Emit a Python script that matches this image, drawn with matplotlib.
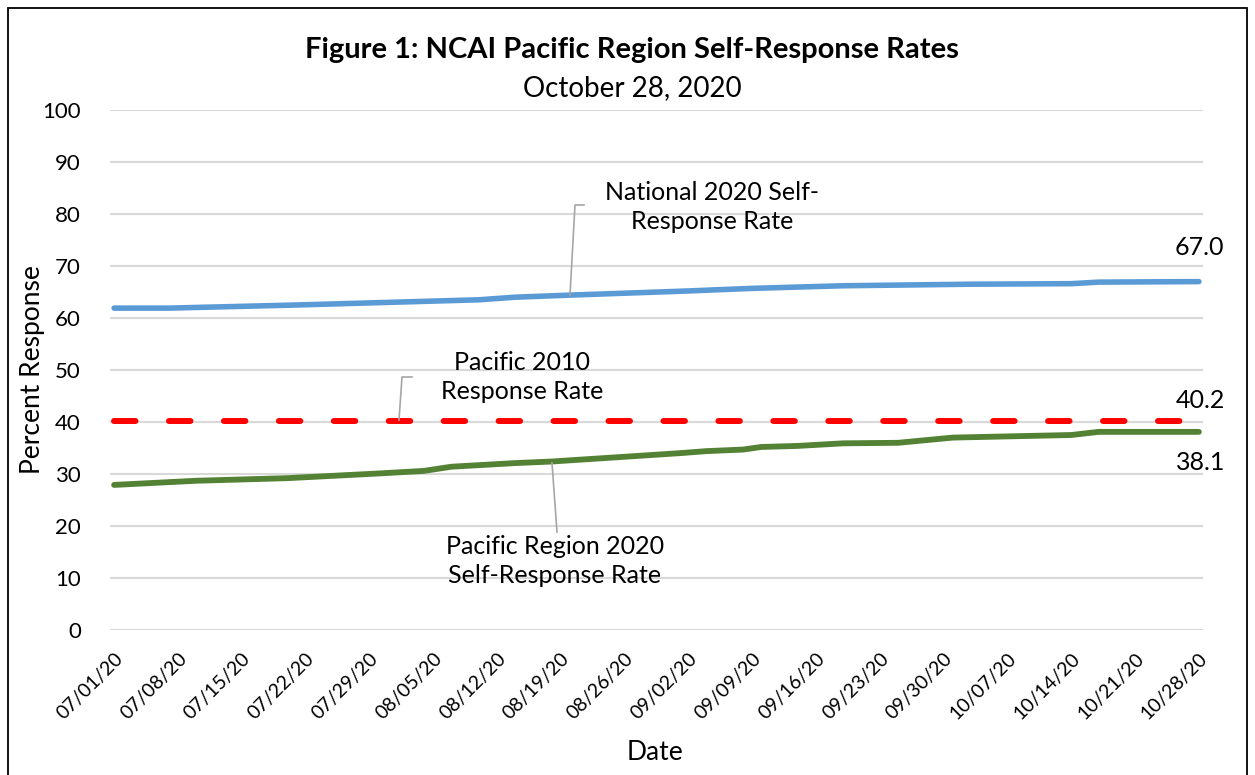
import matplotlib
matplotlib.use("Agg")
import matplotlib.pyplot as plt
import matplotlib.dates as mdates
from matplotlib.patches import Rectangle
import pandas as pd

plt.rcParams['font.family'] = ['Lato', 'DejaVu Sans']

# ---- data ----
tick_dates = ["2020-07-01", "2020-07-08", "2020-07-15", "2020-07-22", "2020-07-29",
              "2020-08-05", "2020-08-12", "2020-08-19", "2020-08-26", "2020-09-02",
              "2020-09-09", "2020-09-16", "2020-09-23", "2020-09-30", "2020-10-07",
              "2020-10-14", "2020-10-21", "2020-10-28"]
tick_labels = ["07/01/20", "07/08/20", "07/15/20", "07/22/20", "07/29/20", "08/05/20",
               "08/12/20", "08/19/20", "08/26/20", "09/02/20", "09/09/20", "09/16/20",
               "09/23/20", "09/30/20", "10/07/20", "10/14/20", "10/21/20", "10/28/20"]

national_dates = ["2020-07-01", "2020-07-07", "2020-07-21", "2020-07-29", "2020-08-04",
                  "2020-08-10", "2020-08-14", "2020-08-20", "2020-09-02", "2020-09-09",
                  "2020-09-19", "2020-10-03", "2020-10-14", "2020-10-17", "2020-10-28"]
national_vals = [61.9, 61.9, 62.5, 62.9, 63.2, 63.5, 64.0, 64.4, 65.2, 65.7,
                 66.2, 66.5, 66.6, 66.9, 67.0]

pacific_dates = ["2020-07-01", "2020-07-10", "2020-07-20", "2020-07-30", "2020-08-04",
                 "2020-08-07", "2020-08-14", "2020-08-18", "2020-08-25", "2020-09-01",
                 "2020-09-04", "2020-09-08", "2020-09-10", "2020-09-14", "2020-09-19",
                 "2020-09-25", "2020-10-01", "2020-10-14", "2020-10-17", "2020-10-28"]
pacific_vals = [27.9, 28.7, 29.2, 30.1, 30.6, 31.4, 32.1, 32.4, 33.2, 34.0,
                34.4, 34.7, 35.2, 35.4, 35.9, 36.0, 37.0, 37.5, 38.1, 38.1]

pacific_2010 = 40.2

# ---- figure ----
W, H = 1255, 775
fig = plt.figure(figsize=(W / 100, H / 100), dpi=100)
ax = fig.add_axes([110 / W, 1 - 630 / H, (1203 - 110) / W, (630 - 110) / H])

nd = pd.to_datetime(national_dates)
pd_ = pd.to_datetime(pacific_dates)
td = pd.to_datetime(tick_dates)

ax.plot(nd, national_vals, color="#5B9BD5", lw=4.0, solid_capstyle="round",
        solid_joinstyle="round", zorder=3)
ax.plot(pd_, pacific_vals, color="#548235", lw=4.2, solid_capstyle="round",
        solid_joinstyle="round", zorder=3)
ax.plot([td[0], td[-1]], [pacific_2010, pacific_2010], color="#FF0000", lw=4.3,
        dashes=(3.6, 5.6), dash_capstyle="round", zorder=3)

x0 = mdates.date2num(td[0])
x1 = mdates.date2num(td[-1])
ax.set_xlim(x0 - 0.45, x1 + 0.45)
ax.set_ylim(0, 100)
ax.set_yticks(range(0, 101, 10))
ax.set_xticks(td)
ax.set_xticklabels(tick_labels, rotation=45, ha="right", va="top",
                   rotation_mode="anchor", fontsize=14)
ax.tick_params(axis="x", length=0, pad=14)
ax.tick_params(axis="y", length=0, pad=21, labelsize=16)
ax.grid(axis="y", color="#D9D9D9", lw=1.5, zorder=0)
ax.set_axisbelow(True)
for s in ax.spines.values():
    s.set_visible(False)

# labels
fig.text(33 / W, 1 - 370 / H, "Percent Response", rotation=90, ha="center",
         va="center", fontsize=19)
fig.text(655 / W, 1 - 752 / H, "Date", ha="center", va="center", fontsize=19)
fig.text(632 / W, 1 - 50 / H, "Figure 1: NCAI Pacific Region Self-Response Rates",
         ha="center", va="center", fontsize=21, fontweight="bold")
fig.text(632 / W, 1 - 88 / H, "October 28, 2020", ha="center", va="center",
         fontsize=20)

# end value labels
ax.annotate(f"{national_vals[-1]:.1f}", (x1, national_vals[-1]), xytext=(0, 34),
            textcoords="offset pixels", ha="center", va="center", fontsize=18)
ax.annotate(f"{pacific_2010:.1f}", (x1, pacific_2010), xytext=(2, 20),
            textcoords="offset pixels", ha="center", va="center", fontsize=18)
ax.annotate(f"{pacific_vals[-1]:.1f}", (x1, pacific_vals[-1]), xytext=(2, -31),
            textcoords="offset pixels", ha="center", va="center", fontsize=18)

# callouts (figure pixel coords)
grey = "#A6A6A6"
fig.lines.append(plt.Line2D([584 / W, 575 / W, 570 / W],
                            [1 - 205 / H, 1 - 205 / H, 1 - 295 / H],
                            color=grey, lw=1.2, transform=fig.transFigure))
fig.text(712 / W, 1 - 207 / H, "National 2020 Self-\nResponse Rate", ha="center",
         va="center", fontsize=18, linespacing=1.3)

fig.lines.append(plt.Line2D([412 / W, 402 / W, 399 / W],
                            [1 - 377 / H, 1 - 377 / H, 1 - 420 / H],
                            color=grey, lw=1.2, transform=fig.transFigure))
fig.text(522 / W, 1 - 377 / H, "Pacific 2010\nResponse Rate", ha="center",
         va="center", fontsize=18, linespacing=1.3)

fig.lines.append(plt.Line2D([552 / W, 557 / W], [1 - 463 / H, 1 - 532 / H],
                            color=grey, lw=1.2, transform=fig.transFigure))
fig.text(555 / W, 1 - 561 / H, "Pacific Region 2020\nSelf-Response Rate",
         ha="center", va="center", fontsize=18, linespacing=1.3)

# figure border
fig.patches.append(Rectangle((8 / W, -0.05), (1247 - 8) / W, 1 - 8 / H + 0.05,
                             transform=fig.transFigure, fill=False,
                             edgecolor="black", lw=1.3))

fig.savefig("out.png", dpi=100)
